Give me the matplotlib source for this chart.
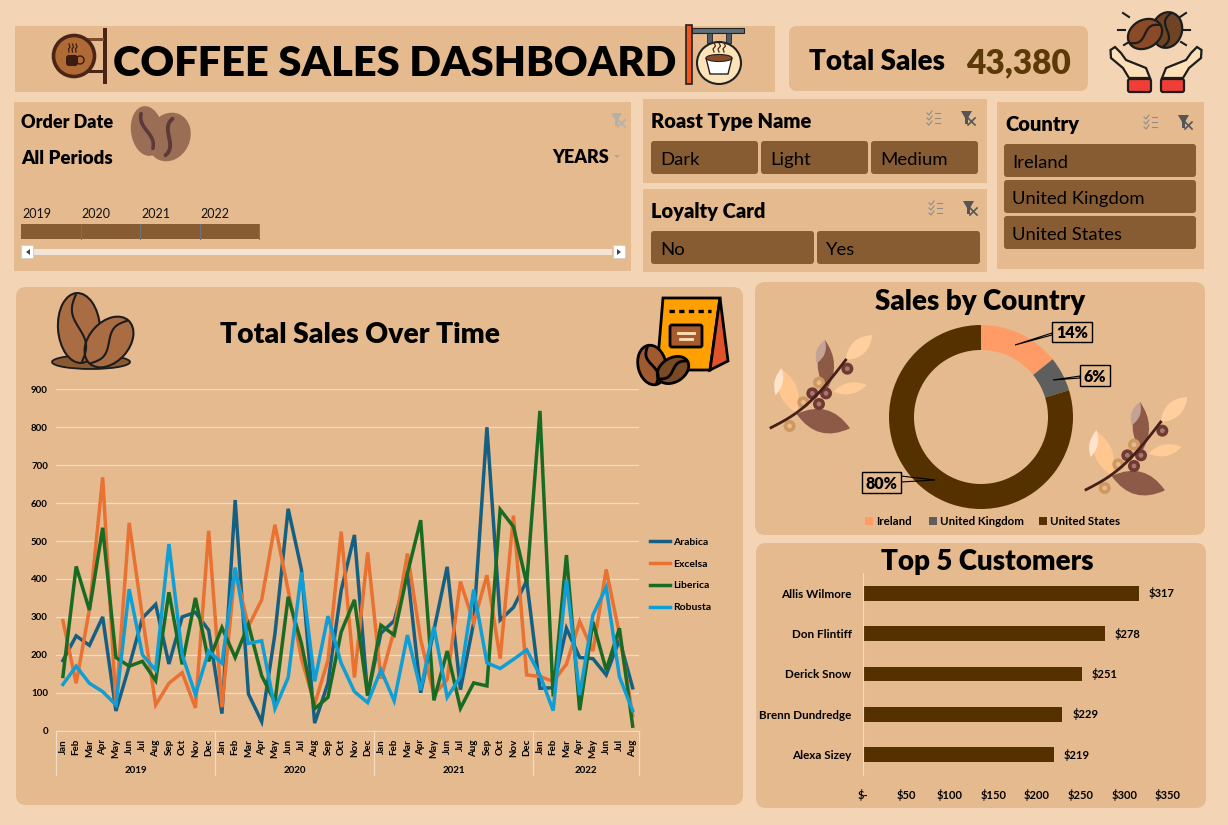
import numpy as np
import matplotlib
matplotlib.use("Agg")
from matplotlib import pyplot as plt
from matplotlib.patches import Rectangle, FancyBboxPatch, Ellipse, Polygon, PathPatch, Circle
from matplotlib.path import Path
from matplotlib.transforms import blended_transform_factory

W, H = 1228, 825
BG = "#F3D5B5"
PANEL = "#E5BA8F"
BTN = "#875C33"
DARK = "#553100"

months = ["Jan", "Feb", "Mar", "Apr", "May", "Jun", "Jul", "Aug", "Sep", "Oct", "Nov", "Dec"]
month_labels = months * 3 + months[:8]
years = ["2019", "2020", "2021", "2022"]

arabica = [185, 250, 225, 300, 52, 170, 297, 333, 176, 300, 312, 265,
           45, 608, 97, 24, 255, 585, 425, 20, 125, 370, 516, 93,
           257, 290, 420, 100, 265, 432, 108, 285, 800, 292, 325, 395,
           112, 113, 270, 193, 190, 147, 240, 113]
excelsa = [290, 125, 320, 668, 70, 548, 300, 68, 125, 153, 60, 527,
           62, 425, 275, 345, 543, 370, 190, 70, 185, 525, 140, 470,
           137, 265, 467, 240, 95, 135, 393, 285, 410, 190, 567, 147,
           143, 130, 175, 288, 210, 425, 255, 40]
liberica = [143, 433, 318, 535, 193, 170, 183, 132, 365, 175, 350, 183,
            272, 193, 280, 145, 75, 353, 230, 58, 88, 260, 345, 92,
            278, 252, 415, 555, 80, 210, 59, 126, 118, 583, 538, 388,
            843, 90, 463, 54, 287, 160, 270, 12]
robusta = [122, 170, 125, 103, 68, 373, 200, 160, 492, 200, 95, 210,
           178, 430, 230, 237, 58, 140, 417, 130, 302, 178, 103, 74,
           160, 79, 252, 107, 274, 88, 142, 372, 179, 164, 188, 213,
           147, 53, 399, 94, 305, 378, 142, 53]

countries = ["Ireland", "United Kingdom", "United States"]
country_share = [14.2, 6.1, 79.7]
country_colors = ["#FF9B66", "#5E5E5E", DARK]

customers = ["Allis Wilmore", "Don Flintiff", "Derick Snow", "Brenn Dundredge", "Alexa Sizey"]
customer_sales = [317, 278, 251, 229, 219]

plt.rcParams["font.family"] = ["Lato", "DejaVu Sans"]


def px_axes(x0, y0, x1, y1, **kw):
    # axes placed with pixel box, y measured from the top
    return fig.add_axes([x0 / W, 1 - y1 / H, (x1 - x0) / W, (y1 - y0) / H], **kw)


def box(x0, y0, x1, y1, fc=PANEL, r=0, ec="none", lw=0, target=None):
    a = target or ax
    if r:
        p = FancyBboxPatch((x0 + r, y0 + r), x1 - x0 - 2 * r, y1 - y0 - 2 * r,
                           boxstyle="round,pad=%d,rounding_size=%d" % (r, r), fc=fc, ec=ec, lw=lw)
    else:
        p = Rectangle((x0, y0), x1 - x0, y1 - y0, fc=fc, ec=ec, lw=lw)
    a.add_patch(p)


def txt(x, y, s, size, weight="normal", color="black", ha="left", target=None):
    # lato sits a little high when centred
    (target or ax).text(x, y + size * 0.12, s, fontsize=size, fontweight=weight, color=color, ha=ha, va="center")


def bean(cx, cy, rx, ry, ang, fc, ec="#1C1C1C", lw=1.5, stripe=None, slw=None):
    ax.add_patch(Ellipse((cx, cy), 2 * rx, 2 * ry, angle=ang, fc=fc, ec=ec, lw=lw))
    t = np.linspace(-0.96, 0.96, 30) if stripe is None else np.linspace(-0.72, 0.72, 30)
    lx, ly = rx * 0.28 * np.sin(np.pi * t), ry * t
    a = np.radians(ang)
    ax.plot(cx + lx * np.cos(a) - ly * np.sin(a), cy + lx * np.sin(a) + ly * np.cos(a),
            color=stripe or ec, lw=slw or lw, solid_capstyle="round")


def leaf(x0, y0, x1, y1, w, fc):
    dx, dy = x1 - x0, y1 - y0
    mx, my = (x0 + x1) / 2, (y0 + y1) / 2
    verts = [(x0, y0), (mx - dy * w, my + dx * w), (x1, y1), (mx + dy * w, my - dx * w), (x0, y0)]
    codes = [Path.MOVETO, Path.CURVE3, Path.CURVE3, Path.CURVE3, Path.CURVE3]
    ax.add_patch(PathPatch(Path(verts, codes), fc=fc, ec="none"))


def branch(ox, oy):
    # zoomed coordinates are thirds of a pixel
    def p(x, y):
        return ox + x / 3, oy + y / 3
    leaf(*p(125, 402), *p(285, 445), 0.42, "#8E5A48")
    leaf(*p(125, 400), *p(75, 265), 0.38, "#FFC78F")
    leaf(*p(62, 345), *p(80, 265), 0.3, "#FFE3CC")
    leaf(*p(215, 330), *p(210, 180), 0.33, "#8E5A48")
    leaf(*p(185, 250), *p(210, 180), 0.35, "#C4A394")
    leaf(*p(272, 240), *p(352, 165), 0.42, "#FFCF9E")
    leaf(*p(235, 335), *p(335, 315), 0.34, "#FFCB96")
    t = np.linspace(0, 1, 20)
    sx = 48 + 224 * t
    sy = 443 - 203 * t + 28 * np.sin(np.pi * t)
    ax.plot(ox + sx / 3, oy + sy / 3, color="#45201A", lw=2)
    for x, y, c, c2 in [(277, 266, "#6E3A32", "#A9776C"), (172, 340, "#6E3A32", "#A9776C"),
                        (213, 340, "#6E3A32", "#A9776C"), (192, 372, "#6E3A32", "#A9776C"),
                        (192, 308, "#D0975F", "#E5BA8F"), (145, 367, "#D0975F", "#E5BA8F"),
                        (104, 438, "#D0975F", "#E5BA8F")]:
        ax.add_patch(Circle(p(x, y), 6, fc=c, ec="none"))
        ax.add_patch(Circle(p(x, y), 2.4, fc=c2, ec="none"))


def filter_icon(x, y, color="#555555", check=True):
    if check:
        for i in range(3):
            ax.plot([x - 26, x - 21], [y - 5 + i * 5, y - 5 + i * 5], color="#8C8C8C", lw=0.8)
            ax.plot([x - 34, x - 32, x - 29], [y - 5 + i * 5, y - 3 + i * 5, y - 7 + i * 5], color="#8C8C8C", lw=0.8)
    ax.add_patch(Polygon([(x, y - 7), (x + 11, y - 7), (x + 7, y), (x + 7, y + 6), (x + 4, y + 6), (x + 4, y)],
                         fc=color, ec="none"))
    ax.plot([x + 7, x + 14], [y, y + 7], color=color, lw=1.2)
    ax.plot([x + 7, x + 14], [y + 7, y], color=color, lw=1.2)


fig = plt.figure(figsize=(W / 100, H / 100), dpi=100, facecolor=BG)
ax = px_axes(0, 0, W, H)
ax.set_xlim(0, W)
ax.set_ylim(H, 0)
ax.axis("off")

# panels
box(15, 26, 775, 92)
box(789, 26, 1088, 91, r=8)
box(14, 102, 631, 271)
box(643, 99, 987, 183)
box(643, 189, 987, 272)
box(997, 102, 1204, 269)
box(16, 287, 743, 805, r=10)
box(755, 282, 1205, 535, r=10)
box(756, 543, 1206, 808, r=10)

# header
txt(395, 60, "COFFEE SALES DASHBOARD", 30, "heavy", ha="center")
txt(809, 60, "Total Sales", 20, "heavy")
txt(1071, 60.5, "43,380", 24, "heavy", "#5C3A08", ha="right")

# left sign
ax.add_patch(Rectangle((103, 28), 4, 56, fc="#4A2415"))
ax.add_patch(Rectangle((84, 38), 20, 3, fc="#7D4A2E"))
ax.add_patch(Rectangle((84, 70), 20, 3, fc="#4A2415"))
ax.add_patch(Circle((74, 56), 20.5, fc="#B06A35", ec="#4A2415", lw=2.6))
ax.add_patch(FancyBboxPatch((66, 55), 12, 11, boxstyle="round,pad=0,rounding_size=3", fc="#3A1D10", ec="none"))
ax.add_patch(Circle((80, 60), 4, fc="none", ec="#3A1D10", lw=1))
for sx in (69, 72.5, 76):
    ax.plot([sx, sx + 1, sx - 0.5, sx], [44, 47, 49, 52], color="#3A1D10", lw=0.9)

# right sign
ax.add_patch(Rectangle((692, 28), 52, 5, fc="#5F7078", ec="#222222", lw=0.8))
for sx in (707, 726):
    ax.add_patch(Rectangle((sx, 33), 5, 10, fc="#4F5E66", ec="#222222", lw=0.6))
ax.add_patch(Rectangle((686, 25), 6, 59, fc="#F0561E", ec="#222222", lw=1.2))
ax.add_patch(Ellipse((719, 63), 44, 42, fc="#FCE3B8", ec="#222222", lw=1.5))
ax.add_patch(Polygon([(706, 58), (732, 58), (728, 74), (710, 74)], fc="white", ec="#222222", lw=1))
ax.add_patch(Ellipse((719, 58), 26, 7, fc="#8A4B25", ec="#222222", lw=0.8))
for sx in (714, 719, 724):
    ax.plot([sx, sx + 1.5, sx - 1, sx], [43, 46, 49, 52], color="#4A2A15", lw=0.9)

# hands and beans
bean(1167, 30, 15, 18, 15, "#6F4424", lw=1.6)
bean(1145, 34, 14, 18, 60, "#8A4A28", lw=1.6)
for x0, y0, x1, y1 in [(1123, 13, 1129, 17), (1118, 30, 1125, 30), (1124, 45, 1129, 42),
                       (1186, 13, 1180, 17), (1190, 30, 1183, 30), (1186, 45, 1181, 42)]:
    ax.plot([x0, x1], [y0, y1], color="#1C1C1C", lw=1.5)
hand = [(1110.5, 50), (1115, 47), (1121, 53), (1126, 60), (1146, 68), (1150, 78), (1129, 78), (1123, 68), (1111, 58)]
ax.add_patch(Polygon(hand, fc="#FCE0B8", ec="#1C1C1C", lw=1.6))
ax.add_patch(Polygon([(2 * 1156 - a, b) for a, b in hand], fc="#FCE0B8", ec="#1C1C1C", lw=1.6))
for sx in (1128, 1161):
    ax.add_patch(FancyBboxPatch((sx, 79), 23, 13, boxstyle="round,pad=0,rounding_size=2", fc="#EF3E36", ec="#1C1C1C", lw=1.6))

# order date slicer
txt(21, 121, "Order Date", 13, "heavy")
txt(21, 157, "All Periods", 13.5, "heavy")
txt(609, 156, "YEARS", 13, "heavy", ha="right")
ax.add_patch(Polygon([(614, 155), (620, 155), (617, 158)], fc="#A8A8A8"))
filter_icon(611, 120, "#B5B0A8", check=False)
bean(147, 131, 16, 25, -8, "#9A6E55", ec="none", lw=1.4, stripe="#5C3A3A", slw=2.6)
bean(169, 137, 21, 25, 25, "#9A6E55", ec="none", lw=1.4, stripe="#5C3A3A", slw=2.8)
ax.add_patch(Rectangle((21, 224), 238, 15, fc=BTN))
for i, yr in enumerate(years):
    xs = 21 + i * 59.5
    txt(xs + 1, 213, yr, 9, color="#111111", target=ax)
    ax.plot([xs + 59.5, xs + 59.5], [224, 239], color="#6E7478", lw=0.7)
ax.add_patch(Rectangle((34, 249), 578, 6, fc="#F2E5D8"))
for bx, mark in ((21, [(30, 249), (30, 255), (26, 252)]), (613, [(617, 249), (617, 255), (621, 252)])):
    ax.add_patch(Rectangle((bx, 245), 12, 13, fc="white", ec="#CCCCCC", lw=0.5))
    ax.add_patch(Polygon(mark, fc="#444444"))

# other slicers
txt(651, 120, "Roast Type Name", 14.5, "heavy")
filter_icon(961, 118)
for (x0, x1), s in zip([(651, 758), (761, 868), (871, 978)], ["Dark", "Light", "Medium"]):
    box(x0, 141, x1, 174, fc=BTN, r=3)
    txt(x0 + 9, 158, s, 13.3)
txt(651, 210, "Loyalty Card", 14.5, "heavy")
filter_icon(963, 208)
for (x0, x1), s in zip([(651, 814), (817, 980)], ["No", "Yes"]):
    box(x0, 231, x1, 264, fc=BTN, r=3)
    txt(x0 + 9, 248, s, 13.3)
txt(1005, 123, "Country", 14.5, "heavy")
filter_icon(1178, 122)
for i, s in enumerate(countries):
    box(1004, 144 + i * 36, 1196, 177 + i * 36, fc=BTN, r=3)
    txt(1012, 161 + i * 36, s, 13.3)

# chart titles and art
txt(360, 333, "Total Sales Over Time", 20.3, "heavy", ha="center")
txt(980, 300, "Sales by Country", 20, "heavy", ha="center")
txt(987, 560, "Top 5 Customers", 20, "heavy", ha="center")

ax.add_patch(Ellipse((91, 362), 78, 14, fc="#8A5A33", ec="#1C1C1C", lw=1.3))
bean(79, 328, 21, 35, -4, "#A96C43", lw=1.5)
bean(109, 342, 20, 29, 42, "#A96C43", lw=1.5)

ax.add_patch(Polygon([(663, 298), (720, 298), (710, 370), (657, 370)], fc="#FF9F00", ec="black", lw=2))
ax.add_patch(Polygon([(720, 298), (728, 361), (710, 370)], fc="#E0532A", ec="black", lw=2))
ax.plot([669, 711], [311, 311], color="black", lw=2.4, ls=(0, (1.6, 1.3)))
ax.add_patch(FancyBboxPatch((670, 325), 32, 22, boxstyle="round,pad=0,rounding_size=2", fc="#A65A2E", ec="black", lw=2))
ax.plot([678, 694], [333, 333], color="#FCE3B8", lw=2)
ax.plot([680, 692], [339, 339], color="#FCE3B8", lw=2)
bean(652, 365, 14, 20, -12, "#A05A30", ec="black", lw=2)
bean(673, 370, 12, 17, 58, "#7A4A25", ec="black", lw=2)

branch(755, 280)
branch(1070, 342)

# line chart
line_ax = px_axes(56.3, 389.3, 639.3, 730.7, facecolor="none")
xs = np.arange(len(month_labels))
series = [("Arabica", arabica, "#156082"), ("Excelsa", excelsa, "#E97132"),
          ("Liberica", liberica, "#196B24"), ("Robusta", robusta, "#0F9ED5")]
for name, vals, col in series:
    line_ax.plot(xs, vals, color=col, lw=2.5, label=name, solid_joinstyle="miter")
line_ax.set_xlim(-0.5, len(xs) - 0.5)
line_ax.set_ylim(0, 900)
line_ax.set_yticks(range(0, 1000, 100))
line_ax.set_xticks(xs, month_labels, rotation=90)
line_ax.tick_params(length=0, labelsize=7, pad=6)
for lab in line_ax.get_xticklabels() + line_ax.get_yticklabels():
    lab.set_fontweight("bold")
line_ax.grid(axis="y", color="#F3DCC4", lw=0.9)
line_ax.set_axisbelow(True)
for s in ("top", "right", "left"):
    line_ax.spines[s].set_visible(False)
line_ax.spines["bottom"].set_color("#F3DCC4")
trans = blended_transform_factory(line_ax.transData, line_ax.transAxes)
year_counts = [12, 12, 12, 8]
edge = -0.5
for yr, n in zip(years, year_counts):
    line_ax.plot([edge, edge], [0, -0.13], transform=trans, clip_on=False, color="#F3DCC4", lw=0.9)
    line_ax.text(edge + n / 2, -0.117, yr, transform=trans, ha="center", va="center", fontsize=7, fontweight="bold")
    edge += n
line_ax.plot([edge, edge], [0, -0.13], transform=trans, clip_on=False, color="#F3DCC4", lw=0.9)
line_ax.legend(loc="upper left", bbox_to_anchor=(1.006, 0.587), frameon=False, labelspacing=1.2,
               handlelength=1.95, handletextpad=0.3, borderaxespad=0.3, prop={"size": 7.5, "weight": "bold"})

# donut
R = 92
pie_ax = px_axes(981 - R, 417 - R, 981 + R, 417 + R)
pie_ax.pie(country_share, colors=country_colors, startangle=90, counterclock=False, radius=1,
           wedgeprops={"width": 25 / R, "linewidth": 0})
pie_ax.set_xlim(-1, 1)
pie_ax.set_ylim(-1, 1)

# bars
bar_ax = px_axes(862.5, 573, 1168, 775, facecolor="none")
bars = bar_ax.barh(customers, customer_sales, height=0.365, color=DARK)
bar_ax.set_xlim(0, 350)
bar_ax.set_ylim(4.5, -0.5)
bar_ax.set_xticks(range(0, 400, 50), ["$-"] + ["$%d" % v for v in range(50, 400, 50)])
bar_ax.tick_params(length=0, labelsize=8)
bar_ax.tick_params(axis="x", pad=10)
bar_ax.tick_params(axis="y", pad=8, labelsize=8.4)
for lab in bar_ax.get_xticklabels() + bar_ax.get_yticklabels():
    lab.set_fontweight("bold")
bar_ax.bar_label(bars, labels=["$%d" % v for v in customer_sales], padding=7, fontsize=8, fontweight="bold")
for s in ("top", "right", "bottom"):
    bar_ax.spines[s].set_visible(False)
bar_ax.spines["left"].set_color("#F3DCC4")

# overlay for donut callouts and legend
top = px_axes(0, 0, W, H, facecolor="none")
top.set_xlim(0, W)
top.set_ylim(H, 0)
top.axis("off")
callouts = [((1052, 322, 1092, 342), (1015, 345), (1052, 335, 1052, 333)),
            ((1080, 365, 1110, 386), (1053, 380), (1080, 378, 1080, 376)),
            ((862, 472, 901, 493), (935, 480), (901, 476, 901, 482))]
for share, (b, tip, e) in zip(country_share, callouts):
    top.add_patch(Polygon([tip, (e[0], e[1]), (e[2], e[3])], fc="none", ec="black", lw=0.8))
    top.add_patch(Rectangle((b[0], b[1]), b[2] - b[0], b[3] - b[1], fc=PANEL, ec="black", lw=1))
    txt((b[0] + b[2]) / 2, (b[1] + b[3]) / 2, "%.0f%%" % share, 11.5, "heavy", ha="center", target=top)
for x, s, col in zip((865, 929, 1039), countries, country_colors):
    top.add_patch(Rectangle((x, 517), 7.5, 7.5, fc=col, ec="none"))
    txt(x + 11, 521, s, 8.3, "bold", target=top)

fig.savefig("out.png", dpi=100, facecolor=BG)
